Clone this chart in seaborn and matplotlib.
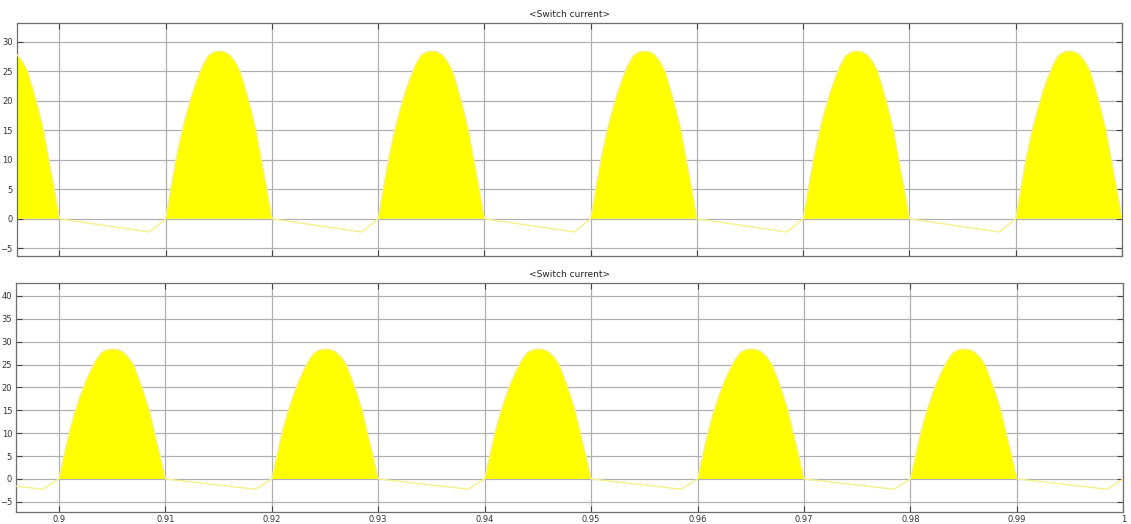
import numpy as np
import pandas as pd
import matplotlib
matplotlib.use("Agg")
import matplotlib.pyplot as plt
import seaborn as sns

# One conduction pulse of the switch current (A), sampled at equal fractions of its 10 ms width
pulse_profile = [0.0, 5.3, 10.4, 14.6, 18.1, 21.2, 23.8, 26.0, 27.6, 28.2, 28.4,
                 28.3, 27.8, 26.7, 25.0, 22.0, 18.7, 15.0, 10.0, 5.2, 0.0]
pulse_width = 0.01          # s
trough_offset = 0.00846     # s after pulse end where the reverse current bottoms out
trough_current = -2.25      # A

# Pulse start times for each scope
starts_top = [0.89, 0.91, 0.93, 0.95, 0.97, 0.99]
starts_bottom = [0.88, 0.90, 0.92, 0.94, 0.96, 0.98]

x_limits = (0.896, 1.0)
ylim_top = (-6.3, 33.2)
ylim_bottom = (-7.3, 42.9)
yticks_top = [-5, 0, 5, 10, 15, 20, 25, 30]
yticks_bottom = [-5, 0, 5, 10, 15, 20, 25, 30, 35, 40]
xticks = [0.9, 0.91, 0.92, 0.93, 0.94, 0.95, 0.96, 0.97, 0.98, 0.99, 1.0]
xtick_labels = ["0.9", "0.91", "0.92", "0.93", "0.94", "0.95", "0.96", "0.97", "0.98", "0.99", "1"]
title = "<Switch current>"


def build_waveform(starts):
    t, i = [], []
    n = len(pulse_profile)
    for s in starts:
        frac = np.linspace(0, 1, n)
        t.extend(s + frac * pulse_width)
        i.extend(pulse_profile)
        end = s + pulse_width
        # reverse-current ramp during the off interval, back to zero at the next turn-on
        t.extend([end + trough_offset, end + pulse_width])
        i.extend([trough_current, 0.0])
    return pd.DataFrame({"time": t, "current": i})


sns.set_theme(style="white")
plt.rcParams["font.family"] = ["DejaVu Sans"]

fig = plt.figure(figsize=(11.31, 5.24), dpi=100)
ax_top = fig.add_axes([0.0150, 0.5115, 0.9770, 0.4452])
ax_bot = fig.add_axes([0.0144, 0.0223, 0.9788, 0.4382])

yellow = "#ffff00"
line_yellow = "#f5f08a"

for ax, starts, ylim, yticks, show_x in [
    (ax_top, starts_top, ylim_top, yticks_top, False),
    (ax_bot, starts_bottom, ylim_bottom, yticks_bottom, True),
]:
    df = build_waveform(starts)
    ax.fill_between(df["time"], 0, df["current"].clip(lower=0), color=yellow,
                    linewidth=0, zorder=2)
    sns.lineplot(data=df, x="time", y="current", ax=ax, color=line_yellow,
                 linewidth=1.0, zorder=3, estimator=None, sort=False)
    ax.set_xlim(*x_limits)
    ax.set_ylim(*ylim)
    ax.set_yticks(yticks)
    ax.set_xticks(xticks)
    if show_x:
        ax.set_xticklabels(xtick_labels)
    else:
        ax.set_xticklabels([])
    ax.set_xlabel("")
    ax.set_ylabel("")
    ax.grid(True, color="#b0b0b0", linewidth=0.9, zorder=1)
    ax.set_axisbelow(True)
    ax.tick_params(axis="both", which="both", direction="in", length=4, width=0.8,
                   colors="#444444", labelsize=6, labelcolor="#333333",
                   top=True, right=True, bottom=True, left=True, pad=2)
    ax.tick_params(axis="y", pad=3)
    for sp in ax.spines.values():
        sp.set_color("#6e6e6e")
        sp.set_linewidth(0.9)
    ax.set_title(title, fontsize=6.5, color="#222222", pad=4)
    ax.set_facecolor("white")

fig.savefig("out.png", dpi=100, facecolor="white")
